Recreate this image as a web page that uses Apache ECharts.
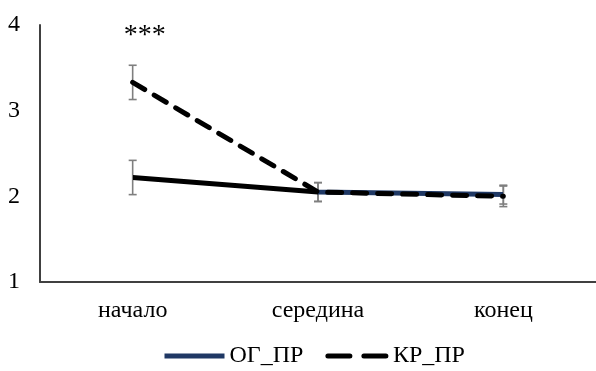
<!DOCTYPE html>
<html>
<head>
<meta charset="utf-8">
<script src="https://cdn.jsdelivr.net/npm/echarts@6/dist/echarts.min.js"></script>
<style>
  html, body { margin: 0; padding: 0; background: #fff; }
  #chart { width: 596px; height: 371px; }
</style>
</head>
<body>
<div id="chart"></div>
<script>
// data
var categories = ['начало', 'середина', 'конец']
var ogValues = [2.22, 2.05, 2.02]
var ogErrors = [0.2, 0.11, 0.11]
var krValues = [3.33, 2.05, 2.0]
var krErrors = [0.2, 0.11, 0.12]
var yTicks = [1, 2, 3, 4]
var starLabel = '***'

var font = '"Liberation Serif", "Times New Roman", serif'
var chart = echarts.init(document.getElementById('chart'))

function errorData(values, errors) {
  return values.map(function (v, i) { return [i, v - errors[i], v + errors[i]] })
}

function renderError(params, api) {
  var lo = api.coord([api.value(0), api.value(1)])
  var hi = api.coord([api.value(0), api.value(2)])
  var w = 4
  var style = { stroke: '#7f7f7f', lineWidth: 1.6 }
  return {
    type: 'group',
    children: [
      { type: 'line', shape: { x1: lo[0], y1: lo[1], x2: hi[0], y2: hi[1] }, style: style },
      { type: 'line', shape: { x1: lo[0] - w, y1: lo[1], x2: lo[0] + w, y2: lo[1] }, style: style },
      { type: 'line', shape: { x1: hi[0] - w, y1: hi[1], x2: hi[0] + w, y2: hi[1] }, style: style }
    ]
  }
}

chart.setOption({
  animation: false,
  textStyle: { fontFamily: font },
  grid: { left: 40, top: 25, width: 562, bottom: 89 },
  legend: {
    bottom: -2,
    left: 157,
    itemWidth: 60,
    itemHeight: 4,
    itemGap: 22,
    data: [
      { name: 'ОГ_ПР' },
      { name: 'КР_ПР', lineStyle: { type: [22, 14] } }
    ],
    itemStyle: { opacity: 0 },
    lineStyle: { width: 5 },
    textStyle: { fontFamily: font, fontSize: 24, color: '#000' }
  },
  visualMap: {
    show: false,
    type: 'piecewise',
    seriesIndex: 2,
    dimension: 0,
    pieces: [
      { gte: 0, lte: 1, color: '#000' },
      { gt: 1, lte: 2, color: '#1f3864' }
    ]
  },
  xAxis: {
    type: 'category',
    data: categories,
    axisLine: { lineStyle: { color: '#404040', width: 2 } },
    axisTick: { show: false },
    axisLabel: { color: '#000', fontSize: 24, margin: 17, fontFamily: font }
  },
  yAxis: {
    type: 'value',
    min: yTicks[0],
    max: yTicks[yTicks.length - 1],
    interval: 1,
    axisLine: { show: true, lineStyle: { color: '#404040', width: 2 } },
    axisTick: { show: false },
    splitLine: { show: false },
    axisLabel: { color: '#000', fontSize: 24, margin: 20, fontFamily: font }
  },
  series: [
    {
      name: 'ОГ_ПР-err',
      type: 'custom',
      renderItem: renderError,
      data: errorData(ogValues, ogErrors),
      z: 1
    },
    {
      name: 'КР_ПР-err',
      type: 'custom',
      renderItem: renderError,
      data: errorData(krValues, krErrors),
      z: 1
    },
    {
      name: 'ОГ_ПР',
      type: 'line',
      data: ogValues,
      symbol: 'none',
      color: '#1f3864',
      lineStyle: { width: 5 },
      z: 3
    },
    {
      name: 'КР_ПР',
      type: 'line',
      data: krValues,
      symbol: 'none',
      color: '#000',
      lineStyle: { width: 5, color: '#000', type: [14, 11], cap: 'round' },
      z: 4,
      markPoint: {
        symbol: 'circle',
        symbolSize: 0,
        data: [{ coord: [0, 3.95] }],
        label: {
          show: true,
          formatter: starLabel,
          color: '#000',
          fontSize: 28,
          fontFamily: font,
          offset: [12, 6]
        }
      }
    }
  ]
})
</script>
</body>
</html>
